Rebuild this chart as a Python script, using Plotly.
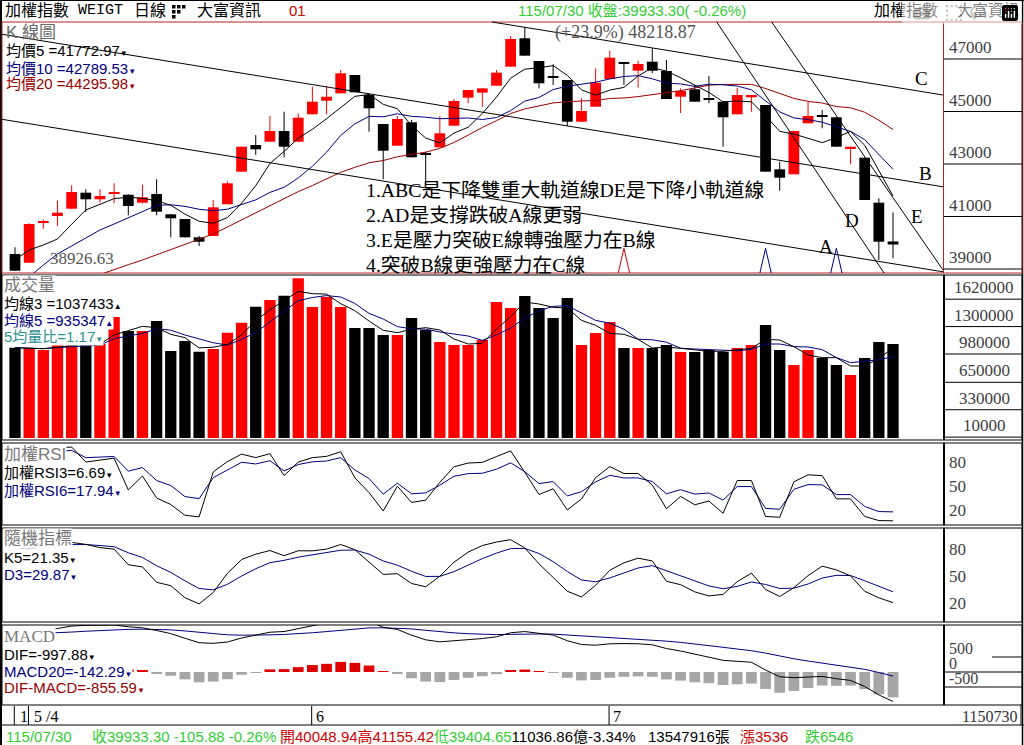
import plotly.graph_objects as go

W, H = 1024, 745
def px(x): return x / W
def py(y): return 1 - y / H

# ---------------- data ----------------
opens = [39571, 39240, 40770, 41019, 41297, 41907, 41655, 41880, 41830, 41526,
         41857, 41084, 40905, 40208, 40257, 41465, 42707, 43724, 43850, 44257,
         43850, 44893, 45410, 45693, 46390, 45629, 44524, 43697, 44589, 43408,
         43636, 44459, 45526, 45716, 45983, 46707, 47790, 46924, 46352, 46200,
         44611, 45183, 46238, 46859, 46554, 46897, 46543, 45563, 45846, 45503,
         45373, 44893, 45541, 45248, 42797, 42608, 44550, 44867, 44779, 43598,
         43240, 41526, 40048.94]
highs = [39827, 40741, 40893, 41602, 42189, 42036, 42036, 42265, 41840, 42211,
         42417, 41084, 40905, 40257, 41629, 42343, 43659, 44105, 44829, 44992,
         44933, 45945, 45971, 46581, 46390, 45690, 44524, 44829, 44676, 43470,
         44829, 45476, 45819, 45900, 46581, 47876, 48218.87, 46924, 46800, 46200,
         45503, 46646, 47316, 46859, 46935, 47408, 46962, 45883, 46010, 46352,
         45373, 45907, 45629, 45248, 43088, 44257, 45373, 45057, 44790, 43659,
         43240, 41693, 41155.42]
lows = [38926.63, 39240, 40535, 40638, 41297, 41171, 41526, 41505, 41046, 41500,
        41046, 40208, 40200, 39876, 40257, 41465, 42707, 43354, 43850, 43255,
        43850, 44893, 44893, 45693, 45731, 44230, 42417, 43697, 43255, 42265,
        43636, 44459, 45312, 45183, 45983, 46707, 47127, 45883, 46010, 44448,
        44611, 45183, 46238, 46010, 45907, 46455, 45476, 44943, 45373, 45312,
        43659, 44893, 44992, 42707, 41983, 42608, 44550, 44360, 43659, 42988,
        41629, 39343, 39404.65]
closes = [38935, 40714, 40800, 41145, 41933, 41655, 41781, 41900, 41400, 41731,
          41183, 40931, 40208, 40040, 41350, 42265, 43659, 43560, 44257, 43659,
          44764, 45374, 45562, 46455, 45731, 45122, 43506, 44714, 43255, 43354,
          44170, 45400, 45819, 45882, 46480, 47762, 47127, 46074, 46302, 44611,
          45019, 46097, 47050, 46810, 46810, 46554, 45476, 45781, 45373, 45438,
          44779, 45629, 45629, 42707, 42478, 44257, 44829, 44802, 43659, 43659,
          41629, 40039.18, 39933.30]
volumes = [1053700, 1046700, 1026900, 1096900, 1096900, 1096900, 1096900, 1411900, 1248600, 1248600,
           1365300, 1015200, 1131900, 1007000, 1038500, 1228700, 1345400, 1532100, 1610300, 1660500,
           1863500, 1528600, 1645300, 1528600, 1283600, 1283600, 1201900, 1201900, 1400300, 1260300,
           1120200, 1085200, 1085200, 1143600, 1587000, 1517000, 1657000, 1517000, 1400300, 1633700,
           1085200, 1225300, 1353600, 1050200, 1050200, 1050200, 1085200, 1003500, 1003500, 1026900,
           1003500, 1050200, 1085200, 1318600, 1026900, 851800, 1026900, 933500, 851800, 735100,
           933500, 1120200, 1096900]
# moving-average values at the left edge (they depend on days before the window)
ma5_head = [39343, 39724, 39914, 40143]
ma10_head = [38390, 38695, 39152, 39571, 39876, 40181, 40486, 40714, 40943]
ma20_head = [37667, 37857, 38048, 38238, 38429, 38619, 38810, 38989, 39164, 39343,
             39541, 39739, 39937, 40135, 40333, 40600, 40867, 41133, 41400]
# indicator states at the left edge
rsi_start = {3: (300.0, 40.0), 6: (280.0, 60.0)}
kd_start = (78.0, 80.0)
macd_start = (38700.0, 37400.0, 1250.0)

N = len(closes)
idx = list(range(N))

def moving(vals, n, head):
    out = list(head)
    for i in range(len(head), len(vals)):
        out.append(sum(vals[i - n + 1:i + 1]) / n)
    return out

def vol_ma(vals, n):
    return [sum(vals[max(0, i - n + 1):i + 1]) / len(vals[max(0, i - n + 1):i + 1]) for i in range(len(vals))]

def rsi(c, n, st):
    ag, al = st
    out = [100 * ag / (ag + al)]
    for i in range(1, len(c)):
        d = c[i] - c[i - 1]
        ag = (ag * (n - 1) + max(d, 0)) / n
        al = (al * (n - 1) + max(-d, 0)) / n
        out.append(100 * ag / (ag + al))
    return out

def kd(h, l, c, n, st):
    K, D = [st[0]], [st[1]]
    for i in range(1, len(c)):
        lo = min(l[max(0, i - n + 1):i + 1]); hi = max(h[max(0, i - n + 1):i + 1])
        rsv = 100 * (c[i] - lo) / (hi - lo) if hi > lo else 50
        k = K[-1] * 2 / 3 + rsv / 3
        K.append(k); D.append(D[-1] * 2 / 3 + k / 3)
    return K, D

def ema(vals, n, init):
    a = 2 / (n + 1); out = [init]
    for v in vals[1:]:
        out.append(out[-1] + a * (v - out[-1]))
    return out

ma5 = moving(closes, 5, ma5_head)
ma10 = moving(closes, 10, ma10_head)
ma20 = moving(closes, 20, ma20_head)
vma3 = vol_ma(volumes, 3)
vma5 = vol_ma(volumes, 5)
rsi3 = rsi(closes, 3, rsi_start[3])
rsi6 = rsi(closes, 6, rsi_start[6])
K5, D3 = kd(highs, lows, closes, 5, kd_start)
e12 = ema(closes, 12, macd_start[0]); e26 = ema(closes, 26, macd_start[1])
dif = [a - b for a, b in zip(e12, e26)]
sig = ema(dif, 15, macd_start[2])
hist = [a - b for a, b in zip(dif, sig)]

RED, BLK, NAVY, DRED = '#ff0000', '#000000', '#000080', '#990000'
GREEN = '#33cc33'
SERIF = 'Liberation Serif, Noto Sans CJK TC'
SANS = 'Liberation Sans, Noto Sans CJK TC'

fig = go.Figure()

# ---- candlesticks ----
cc = [RED if c > o else BLK for o, c in zip(opens, closes)]
for col in (RED, BLK):
    xs, ys = [], []
    for i in idx:
        if cc[i] == col:
            xs += [i, i, None]; ys += [lows[i], highs[i], None]
    fig.add_trace(go.Scatter(x=xs, y=ys, mode='lines', line=dict(color=col, width=1),
                             hoverinfo='skip', yaxis='y'))
fig.add_trace(go.Bar(x=idx, y=[max(abs(c - o), 40) for o, c in zip(opens, closes)],
                     base=[min(o, c) for o, c in zip(opens, closes)], width=0.76,
                     marker=dict(color=cc, line=dict(width=0)), hoverinfo='skip', yaxis='y'))
for vals, col in ((ma20, DRED), (ma10, NAVY), (ma5, BLK)):
    fig.add_trace(go.Scatter(x=idx, y=vals, mode='lines', line=dict(color=col, width=1),
                             hoverinfo='skip', yaxis='y'))

# ---- volume ----
fig.add_trace(go.Bar(x=idx, y=volumes, width=0.8, marker=dict(color=cc, line=dict(width=0)),
                     hoverinfo='skip', yaxis='y2'))
fig.add_trace(go.Scatter(x=idx, y=vma5, mode='lines', line=dict(color=NAVY, width=1), hoverinfo='skip', yaxis='y2'))
fig.add_trace(go.Scatter(x=idx, y=vma3, mode='lines', line=dict(color=BLK, width=1), hoverinfo='skip', yaxis='y2'))

# ---- RSI / KD / MACD ----
fig.add_trace(go.Scatter(x=idx, y=rsi6, mode='lines', line=dict(color=NAVY, width=1), hoverinfo='skip', yaxis='y3'))
fig.add_trace(go.Scatter(x=idx, y=rsi3, mode='lines', line=dict(color=BLK, width=1), hoverinfo='skip', yaxis='y3'))
fig.add_trace(go.Scatter(x=idx, y=D3, mode='lines', line=dict(color=NAVY, width=1), hoverinfo='skip', yaxis='y4'))
fig.add_trace(go.Scatter(x=idx, y=K5, mode='lines', line=dict(color=BLK, width=1), hoverinfo='skip', yaxis='y4'))
fig.add_trace(go.Bar(x=idx, y=hist, width=0.76,
                     marker=dict(color=['#dd0000' if h > 0 else '#a6a6a6' for h in hist], line=dict(width=0)),
                     hoverinfo='skip', yaxis='y5'))
fig.add_trace(go.Scatter(x=idx, y=sig, mode='lines', line=dict(color=NAVY, width=1), hoverinfo='skip', yaxis='y5'))
fig.add_trace(go.Scatter(x=idx, y=dif, mode='lines', line=dict(color=BLK, width=1), hoverinfo='skip', yaxis='y5'))

shapes = []
def hline(y, x0, x1, color='#000', w=1):
    shapes.append(dict(type='line', xref='paper', yref='paper', x0=px(x0), x1=px(x1), y0=py(y), y1=py(y),
                       line=dict(color=color, width=w)))
def vline(x, y0, y1, color='#000', w=1):
    shapes.append(dict(type='line', xref='paper', yref='paper', x0=px(x), x1=px(x), y0=py(y0), y1=py(y1),
                       line=dict(color=color, width=w)))
def rect(x0, y0, x1, y1, color='#000', w=1):
    shapes.append(dict(type='rect', xref='paper', yref='paper', x0=px(x0), x1=px(x1), y0=py(y1), y1=py(y0),
                       line=dict(color=color, width=w), fillcolor='rgba(0,0,0,0)'))

# frame and panels
vline(1, 0, 745, w=2); vline(1022.5, 0, 745, w=1.5); hline(0.5, 0, 1024)
rect(2, 22, 1022, 273, color='#b22222'); vline(943.5, 22, 273, color='#b22222')
for (a, b) in ((275, 440), (443, 525), (528, 622), (625, 705)):
    rect(2, a, 1022, b); vline(944, a, b, w=2)
hline(725, 0, 1024); vline(1021, 705, 725)

# hand-drawn channel lines A-E
for (x0, y0, x1, y1) in ((492, 22, 943, 95), (2, 34.3, 943, 186.8), (2, 119.3, 943, 271.8),
                         (716.7, 22, 884, 273), (771.7, 22, 943, 270)):
    shapes.append(dict(type='line', xref='paper', yref='paper', x0=px(x0), x1=px(x1), y0=py(y0), y1=py(y1),
                       line=dict(color='#000', width=1), layer='above'))

# signal triangles at the bottom of the price panel
for i, col in ((43, '#cc0000'), (53, NAVY), (58, NAVY)):
    shapes.append(dict(type='path', xref='x', yref='y',
                       path=f'M {i-0.4},38848 L {i},39790 L {i+0.4},38848',
                       line=dict(color=col, width=1)))

# right-hand scale lines
for v in (47000, 45000, 43000, 41000, 39000):
    shapes.append(dict(type='line', xref='paper', yref='y', x0=px(944), x1=px(1022), y0=v, y1=v,
                       line=dict(color='#000', width=1)))
for v in (1620000, 1300000, 980000, 650000, 330000, 10000):
    shapes.append(dict(type='line', xref='paper', yref='y2', x0=px(944), x1=px(1022), y0=v, y1=v,
                       line=dict(color='#000', width=1)))
for v in (500, 0, -500):
    shapes.append(dict(type='line', xref='paper', yref='y5', x0=px(992 if v == 500 else 944), x1=px(1022),
                       y0=v, y1=v, line=dict(color='#000', width=1)))

# date ticks
for i in (0, 1, 21, 42):
    shapes.append(dict(type='line', xref='x', yref='paper', x0=i - 0.05, x1=i - 0.05, y0=py(706), y1=py(725),
                       line=dict(color='#000', width=1)))

# header icon
for (x0, y0) in ((172, 5), (177, 5), (182, 5), (172, 10), (177, 10), (172, 15)):
    shapes.append(dict(type='rect', xref='paper', yref='paper', x0=px(x0), x1=px(x0 + 3.5), y0=py(y0 + 3.5),
                       y1=py(y0), fillcolor='#000', line=dict(width=0)))

ann = []
def text(x, y, s, color='#000', size=15, font=SANS, anchor='left', bg=None):
    d = dict(x=px(x), y=py(y), xref='paper', yref='paper', text=s, showarrow=False, xanchor=anchor,
             yanchor='middle', font=dict(color=color, size=size, family=font))
    if bg:
        d['bgcolor'] = bg; d['borderpad'] = 0
    ann.append(d)

TRI_D = '<span style="font-size:8px">▼</span>'
TRI_U = '<span style="font-size:8px">▲</span>'

# header
text(3, 11, '加權指數', size=16)
text(76, 11, 'WEIGT', size=15, font='Liberation Mono')
text(132, 11, '日線', size=16)
text(195, 11, '大富資訊', size=16)
text(287, 11, '01', color='#cc0000', size=15, font='Liberation Sans')
text(516, 11, '115/07/30 收盤:39933.30( -0.26%)', color=GREEN, size=15)
text(872, 11, '加權指數', size=16)
text(955, 11, '大富資訊', size=15.5)

# price panel texts
text(4, 33, 'K 線圖', color='#666', size=17)
text(4, 51, '均價5 =41772.97' + TRI_D, size=15)
text(4, 68, '均價10 =42789.53' + TRI_D, color=NAVY, size=15)
text(4, 84, '均價20 =44295.98' + TRI_D, color=DRED, size=15)
text(48, 258, '38926.63', color='#555', size=17, font=SERIF)
text(553, 33, '(+23.9%) 48218.87', color='#555', size=18, font=SERIF)
notes = ['1.ABC是下降雙重大軌道線DE是下降小軌道線', '2.AD是支撐跌破A線更弱',
         '3.E是壓力突破E線轉強壓力在B線', '4.突破B線更強壓力在C線']
for k, s in enumerate(notes):
    text(364, 190 + 25 * k, s, size=19.8, font=SERIF)
for s, x, y in (('C', 921, 78), ('B', 925, 173), ('E', 917, 216), ('D', 852, 220), ('A', 826, 246)):
    text(x, y, s, size=19, font=SERIF, anchor='center')

# volume legend
text(3, 285, '成交量', color='#777', size=17, bg='white')
text(3, 303, '均線3 =1037433' + TRI_U, size=15, bg='white')
text(3, 320, '均線5 =935347' + TRI_U, color=NAVY, size=15, bg='white')
text(3, 336, '5均量比=1.17' + TRI_D, color='#2e9090', size=15, bg='white')

# indicator legends
text(3, 454, '加權RSI', color='#777', size=17, bg='white')
text(3, 472, '加權RSI3=6.69' + TRI_D, size=15, bg='white')
text(3, 490, '加權RSI6=17.94' + TRI_D, color=NAVY, size=15, bg='white')
text(3, 538, '隨機指標', color='#777', size=17, bg='white')
text(3, 557, 'K5=21.35' + TRI_D, size=15, bg='white')
text(3, 574, 'D3=29.87' + TRI_D, color=NAVY, size=15, bg='white')
text(3, 636, 'MACD', color='#777', size=17, font=SERIF, bg='white')
text(3, 654, 'DIF=-997.88' + TRI_D, size=15, bg='white')
text(3, 671, 'MACD20=-142.29' + TRI_D, color=NAVY, size=15, bg='white')
text(3, 687, 'DIF-MACD=-855.59' + TRI_D, color=DRED, size=15, bg='white')

# right-hand scale labels
AX = dict(color='#404040', size=17, family='Liberation Serif')
for v in (47000, 45000, 43000, 41000, 39000):
    ann.append(dict(x=px(947), y=v, xref='paper', yref='y', text=str(v), showarrow=False, xanchor='left',
                    yanchor='bottom', font=AX))
for v in (1620000, 1300000, 980000, 650000, 330000, 10000):
    ann.append(dict(x=px(984), y=v, xref='paper', yref='y2', text=str(v), showarrow=False, xanchor='center',
                    yanchor='bottom', font=AX))
for ax in ('y3', 'y4'):
    for v in (80, 50, 20):
        ann.append(dict(x=px(947), y=v, xref='paper', yref=ax, text=str(v), showarrow=False, xanchor='left',
                        yanchor='middle', font=AX))
for v in (500, 0, -500):
    ann.append(dict(x=px(947), y=v, xref='paper', yref='y5', text=str(v), showarrow=False, xanchor='left',
                    yanchor='bottom', yshift=-2, font=dict(color='#404040', size=16, family='Liberation Serif')))

# date row
text(18, 716, '1', size=16, font=SERIF)
text(32, 716, '5 /4', size=16, font=SERIF)
text(314, 716, '6', size=16, font=SERIF)
text(611, 716, '7', size=16, font=SERIF)
text(1019, 716, '1150730', size=16, font=SERIF, anchor='right', color='#333')

# status bar
text(4, 736, '115/07/30', color=GREEN, size=15)
text(90, 736, '收39933.30 -105.88 -0.26%', color=GREEN, size=15)
text(278, 736, '<span style="color:#cc0000">開40048.94高41155.42</span>'
               f'<span style="color:{GREEN}">低39404.65</span>11036.86億-3.34%', size=15)
text(646, 736, '13547916張', size=15)
text(738, 736, '漲3536', color='#cc0000', size=15)
text(803, 736, '跌6546', color=GREEN, size=15)

xr = [-0.918, 65.53]
lay = dict(width=W, height=H, autosize=False, margin=dict(l=0, r=0, t=0, b=0),
           paper_bgcolor='white', plot_bgcolor='rgba(0,0,0,0)', showlegend=False, barmode='overlay',
           xaxis=dict(domain=[px(2), px(943)], range=xr, visible=False, fixedrange=True),
           shapes=shapes, annotations=ann)
axes = {'yaxis': ([273, 22], [38847.6, 48409.5]), 'yaxis2': ([440, 276], [-23337, 1890315]),
        'yaxis3': ([525, 443], [1.25, 103.75]), 'yaxis4': ([622, 528], [0, 104.4]),
        'yaxis5': ([705, 625], [-1100, 1567])}
for k, (dom, rng) in axes.items():
    lay[k] = dict(domain=[py(dom[0]), py(dom[1])], range=rng, visible=False, fixedrange=True, anchor='x')
fig.update_layout(**lay)
fig.write_html('out.html', post_script="document.body.style.margin='0';")
